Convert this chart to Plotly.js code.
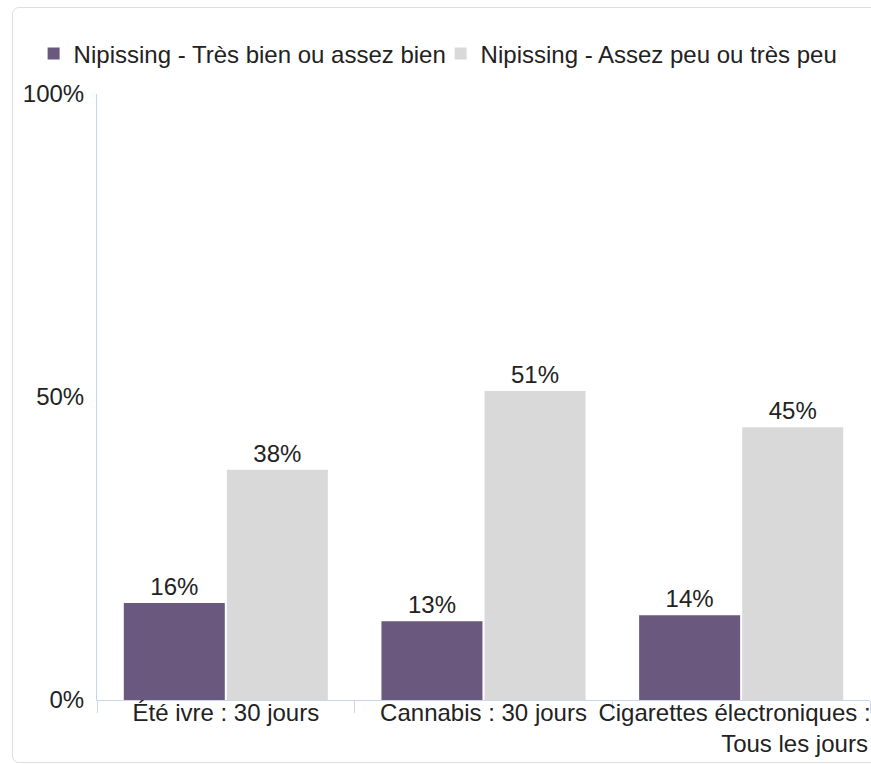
<!DOCTYPE html>
<html>
<head>
<meta charset="utf-8">
<script src="https://cdn.plot.ly/plotly-3.0.1.min.js"></script>
<style>
  html, body { margin: 0; padding: 0; background: #ffffff; overflow: hidden; }
  #card { position: absolute; left: 12px; top: 7px; width: 900px; height: 756px;
          border: 1px solid #dedede; border-radius: 7px; box-sizing: border-box; z-index: 0; }
  #chart { position: absolute; left: 0; top: 0; width: 871px; height: 764px; z-index: 1; }
</style>
</head>
<body>
<div id="card"></div>
<div id="chart"></div>
<script>
// Data
const categories = ["Été ivre : 30 jours", "Cannabis : 30 jours", "Cigarettes électroniques :\u00a0\u00a0<br>\u00a0\u00a0\u00a0\u00a0\u00a0\u00a0\u00a0\u00a0\u00a0\u00a0\u00a0\u00a0\u00a0\u00a0\u00a0\u00a0Tous les jours"];
const seriesNames = ["Nipissing - Très bien ou assez bien", "Nipissing - Assez peu ou très peu"];
const valuesBien = [16, 13, 14];
const valuesPeu = [38, 51, 45];
const yTickVals = [0, 50, 100];
const yTickText = ["0%", "50%", "100%"];

const FONT = '"Liberation Sans", Arial, Helvetica, sans-serif';
const TXT = '#222222';

const traces = [
  {
    type: 'bar', name: seriesNames[0], x: categories, y: valuesBien,
    marker: { color: '#6a587e' },
    text: valuesBien.map(v => v + '%'), textposition: 'outside',
    textfont: { family: FONT, size: 24, color: TXT },
    cliponaxis: false, hoverinfo: 'none'
  },
  {
    type: 'bar', name: seriesNames[1], x: categories, y: valuesPeu,
    marker: { color: '#d9d9d9' },
    text: valuesPeu.map(v => v + '%'), textposition: 'outside',
    textfont: { family: FONT, size: 24, color: TXT },
    cliponaxis: false, hoverinfo: 'none'
  }
];

const layout = {
  width: 871, height: 764,
  margin: { l: 97, r: 1, t: 94, b: 64 },
  paper_bgcolor: 'rgba(0,0,0,0)', plot_bgcolor: 'rgba(0,0,0,0)',
  font: { family: FONT, size: 24, color: TXT },
  barmode: 'group', bargap: 0.2, bargroupgap: 0.02,
  showlegend: true,
  legend: {
    orientation: 'h', x: -0.082, xanchor: 'left', y: 1.066, yanchor: 'middle',
    entrywidth: 362,
    font: { family: FONT, size: 24, color: TXT }, bgcolor: 'rgba(0,0,0,0)',
    itemclick: false, itemdoubleclick: false
  },
  xaxis: {
    type: 'category', showline: true, linecolor: '#ccd6eb', linewidth: 1,
    ticks: 'outside', tickson: 'boundaries', ticklen: 12, tickcolor: '#ccd6eb', tickwidth: 1,
    tickangle: 0, ticklabelstandoff: -9,
    tickfont: { family: FONT, size: 24, color: TXT },
    showgrid: false, zeroline: false, fixedrange: true
  },
  yaxis: {
    range: [0, 100], tickvals: yTickVals, ticktext: yTickText,
    showline: true, linecolor: '#ccd6eb', linewidth: 1,
    ticks: '', ticklabelstandoff: 7,
    tickfont: { family: FONT, size: 24, color: TXT },
    showgrid: false, zeroline: false, fixedrange: true
  }
};

Plotly.newPlot('chart', traces, layout, { displayModeBar: false, staticPlot: true });
</script>
</body>
</html>
